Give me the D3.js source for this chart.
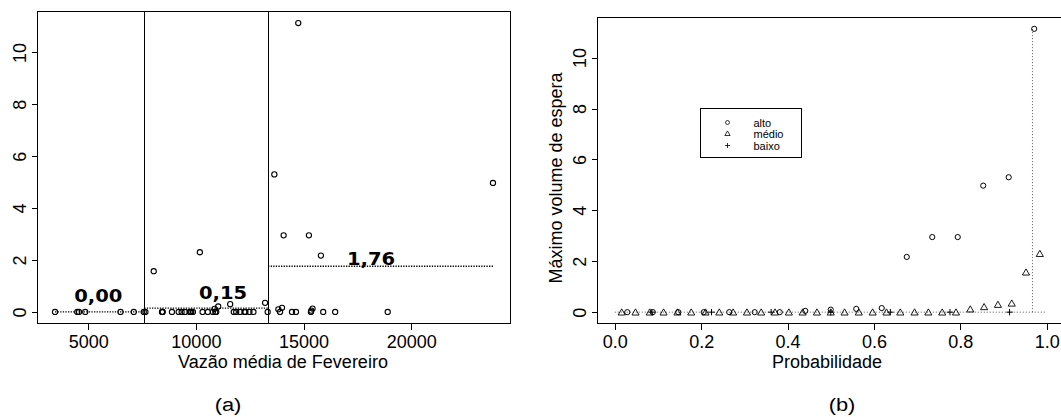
<!DOCTYPE html>
<html>
<head>
<meta charset="utf-8">
<script src="https://cdn.jsdelivr.net/npm/d3@7"></script>
<style>
  body { margin: 0; background: #fff; }
  text { font-family: "Liberation Sans", Arial, sans-serif; fill: #000; }
</style>
</head>
<body>
<svg id="chart" width="1061" height="417"></svg>
<script>
// (a) february mean flow vs max waiting volume, three flow classes
const febFlow = [
  3458, 4491, 4570, 4861, 6500, 7116, 7579,
  7657, 8042, 8426, 8440, 8459, 8889, 9200, 9338, 9491, 9709, 9750, 9787, 9862,
  10185, 10311, 10556, 10788, 10866, 10900, 10945, 11037, 11593, 11760, 11871,
  12056, 12255, 12300, 12487, 12672, 13214, 13334,
  13644, 13830, 13908, 14000, 14075, 14464, 14649, 14755, 15250, 15343, 15360,
  15418, 15806, 15913, 16469, 18909, 23798
];
const maxVolume = [
  0, 0, 0, 0, 0, 0, 0,
  0, 1.57, 0, 0, 0, 0, 0, 0, 0, 0, 0, 0, 0,
  2.30, 0, 0, 0, 0.12, 0, 0, 0.21, 0.30, 0, 0,
  0, 0, 0, 0, 0, 0.35, 0,
  5.30, 0.10, 0, 0.16, 2.95, 0, 0, 11.13, 2.95, 0, 0.05,
  0.13, 2.17, 0, 0, 0, 4.97
];
const flowBreaks = [7600, 13350];
const groupMeans = [0.00, 0.15, 1.76];
const meanLabels = ['0,00', '0,15', '1,76'];

// (b) max waiting volume vs probability, per class
const probAlto = [0.029, 0.088, 0.147, 0.206, 0.265, 0.324, 0.382, 0.441, 0.500,
  0.559, 0.618, 0.676, 0.735, 0.794, 0.853, 0.912, 0.971];
const volAlto = [0, 0, 0, 0, 0, 0, 0, 0.05, 0.10, 0.13, 0.16, 2.17, 2.95, 2.95, 4.97, 5.30, 11.13];
const probMedio = [0.016, 0.048, 0.081, 0.113, 0.145, 0.177, 0.210, 0.242, 0.274, 0.306,
  0.339, 0.371, 0.403, 0.435, 0.468, 0.500, 0.532, 0.565, 0.597, 0.629, 0.661, 0.694,
  0.726, 0.758, 0.790, 0.823, 0.855, 0.887, 0.919, 0.952, 0.984];
const volMedio = [0, 0, 0, 0, 0, 0, 0, 0, 0, 0, 0, 0, 0, 0, 0, 0, 0, 0, 0, 0, 0, 0, 0, 0, 0,
  0.12, 0.21, 0.30, 0.35, 1.57, 2.30];
const probBaixo = [0.086, 0.224, 0.362, 0.500, 0.638, 0.776, 0.914];
const volBaixo = [0, 0, 0, 0, 0, 0, 0];
const legendLabels = ['alto', 'médio', 'baixo'];
const refProb = 0.967;

const xTicksA = [5000, 10000, 15000, 20000];
const xTicksB = [0, 0.2, 0.4, 0.6, 0.8, 1.0];
const yTicks = [0, 2, 4, 6, 8, 10];

// R style 4% axis padding
function pad(ext) {
  const r = ext[1] - ext[0];
  return [ext[0] - 0.04 * r, ext[1] + 0.04 * r];
}

const svg = d3.select('#chart');
const yDomain = pad([0, d3.max(maxVolume)]);

const xA = d3.scaleLinear().domain(pad(d3.extent(febFlow))).range([37.5, 510.5]);
const yA = d3.scaleLinear().domain(yDomain).range([323.5, 11.5]);
const xB = d3.scaleLinear().domain(pad([0, 1])).range([597.5, 1064]);
const yB = d3.scaleLinear().domain(yDomain).range([323.5, 17.5]);

function drawAxes(x, y, xTicks, fmt) {
  const [x0, x1] = x.range();
  const [y0, y1] = y.range();
  svg.append('g')
    .attr('transform', `translate(0,${y0})`)
    .call(d3.axisBottom(x).tickValues(xTicks).tickFormat(fmt).tickSize(6).tickSizeOuter(0))
    .call(g => g.select('.domain').remove())
    .call(g => g.selectAll('line').attr('stroke', '#000').attr('shape-rendering', 'crispEdges'))
    .call(g => g.selectAll('text').attr('y', 24).attr('dy', null)
      .style('font-size', '18px').attr('fill', '#000'));

  svg.append('g')
    .attr('transform', `translate(${x0},0)`)
    .call(d3.axisLeft(y).tickValues(yTicks).tickSize(6).tickSizeOuter(0))
    .call(g => g.select('.domain').remove())
    .call(g => g.selectAll('line').attr('stroke', '#000').attr('shape-rendering', 'crispEdges'))
    .call(g => g.selectAll('text')
      .attr('x', null).attr('dy', null)
      .attr('text-anchor', 'middle')
      .attr('transform', 'translate(-12,0) rotate(-90)')
      .style('font-size', '18px').attr('fill', '#000'));

  svg.append('rect')
    .attr('x', x0).attr('y', y1)
    .attr('width', x1 - x0).attr('height', y0 - y1)
    .attr('fill', 'none').attr('stroke', '#000').attr('stroke-width', 1)
    .attr('shape-rendering', 'crispEdges');
}

// ---- panel (a)
drawAxes(xA, yA, xTicksA, d3.format('d'));

svg.append('g')
  .selectAll('line')
  .data(flowBreaks)
  .enter()
  .append('line')
  .attr('x1', d => xA(d)).attr('x2', d => xA(d))
  .attr('y1', yA.range()[1]).attr('y2', yA.range()[0])
  .attr('stroke', '#000').attr('stroke-width', 1)
  .attr('shape-rendering', 'crispEdges');

const bounds = [d3.min(febFlow), ...flowBreaks, d3.max(febFlow)];
svg.append('g')
  .selectAll('line')
  .data(groupMeans)
  .enter()
  .append('line')
  .attr('x1', (d, i) => xA(bounds[i])).attr('x2', (d, i) => xA(bounds[i + 1]))
  .attr('y1', d => yA(d)).attr('y2', d => yA(d))
  .attr('stroke', '#000').attr('stroke-width', 1.3)
  .attr('stroke-dasharray', '1.3,1.3');

svg.append('g')
  .selectAll('circle')
  .data(febFlow)
  .enter()
  .append('circle')
  .attr('cx', d => xA(d))
  .attr('cy', (d, i) => yA(maxVolume[i]))
  .attr('r', 2.6)
  .attr('fill', 'none').attr('stroke', '#000').attr('stroke-width', 1.1);

// mean labels, placed in data units above each segment
const labelAt = [[5471, 0.37], [11264, 0.5], [18138, 1.82]];
svg.append('g')
  .selectAll('text')
  .data(meanLabels)
  .enter()
  .append('text')
  .attr('transform', (d, i) => `translate(${xA(labelAt[i][0])},${yA(labelAt[i][1])}) scale(1.15,1)`)
  .attr('text-anchor', 'middle')
  .style('font-family', '"DejaVu Sans", Verdana, sans-serif')
  .style('font-weight', 'bold')
  .style('font-size', '17px')
  .text(d => d);

svg.append('text')
  .attr('x', 283).attr('y', 368)
  .attr('text-anchor', 'middle')
  .style('font-size', '18px')
  .text('Vazão média de Fevereiro');

svg.append('text')
  .attr('transform', 'translate(228,411) scale(1.15,1)')
  .attr('text-anchor', 'middle')
  .style('font-size', '19px')
  .text('(a)');

// ---- panel (b)
drawAxes(xB, yB, xTicksB, d3.format('.1f'));

svg.append('line')
  .attr('x1', xB(0)).attr('x2', xB(1))
  .attr('y1', yB(0)).attr('y2', yB(0))
  .attr('stroke', '#555').attr('stroke-width', 1)
  .attr('stroke-dasharray', '1,2');

svg.append('line')
  .attr('x1', xB(refProb)).attr('x2', xB(refProb))
  .attr('y1', yB(0)).attr('y2', yB(d3.max(volAlto)))
  .attr('stroke', '#555').attr('stroke-width', 1)
  .attr('stroke-dasharray', '1,2');

const triangle = d3.symbol().type(d3.symbolTriangle).size(22);
const plus = 'M-3.2,0H3.2M0,-3.2V3.2';

svg.append('g')
  .selectAll('path')
  .data(probMedio)
  .enter()
  .append('path')
  .attr('transform', (d, i) => `translate(${xB(d)},${yB(volMedio[i]) + 0.8})`)
  .attr('d', triangle)
  .attr('fill', 'none').attr('stroke', '#000').attr('stroke-width', 0.9);

svg.append('g')
  .selectAll('path')
  .data(probBaixo)
  .enter()
  .append('path')
  .attr('transform', (d, i) => `translate(${xB(d)},${yB(volBaixo[i])})`)
  .attr('d', plus)
  .attr('fill', 'none').attr('stroke', '#000').attr('stroke-width', 1);

svg.append('g')
  .selectAll('circle')
  .data(probAlto)
  .enter()
  .append('circle')
  .attr('cx', d => xB(d))
  .attr('cy', (d, i) => yB(volAlto[i]))
  .attr('r', 2.6)
  .attr('fill', 'none').attr('stroke', '#000').attr('stroke-width', 1);

// legend
const legend = svg.append('g').attr('transform', 'translate(700.5,108.5)');
legend.append('rect')
  .attr('width', 101).attr('height', 49)
  .attr('fill', '#fff').attr('stroke', '#000').attr('stroke-width', 1)
  .attr('shape-rendering', 'crispEdges');
const rows = legend.selectAll('g.row')
  .data(legendLabels)
  .enter()
  .append('g')
  .attr('class', 'row')
  .attr('transform', (d, i) => `translate(0,${14 + i * 11.5})`);
rows.append('path')
  .attr('transform', 'translate(27,0)')
  .attr('d', (d, i) => i === 0 ? d3.symbol().type(d3.symbolCircle).size(12)()
    : i === 1 ? d3.symbol().type(d3.symbolTriangle).size(12)() : 'M-2.5,0H2.5M0,-2.5V2.5')
  .attr('fill', 'none').attr('stroke', '#000').attr('stroke-width', 0.8);
rows.append('text')
  .attr('x', 53).attr('y', 4)
  .style('font-size', '11px')
  .text(d => d);

svg.append('text')
  .attr('transform', 'translate(562,178) rotate(-90)')
  .attr('text-anchor', 'middle')
  .style('font-size', '18px')
  .text('Máximo volume de espera');

svg.append('text')
  .attr('x', 827).attr('y', 368)
  .attr('text-anchor', 'middle')
  .style('font-size', '18px')
  .text('Probabilidade');

svg.append('text')
  .attr('transform', 'translate(842,411) scale(1.15,1)')
  .attr('text-anchor', 'middle')
  .style('font-size', '19px')
  .text('(b)');
</script>
</body>
</html>
